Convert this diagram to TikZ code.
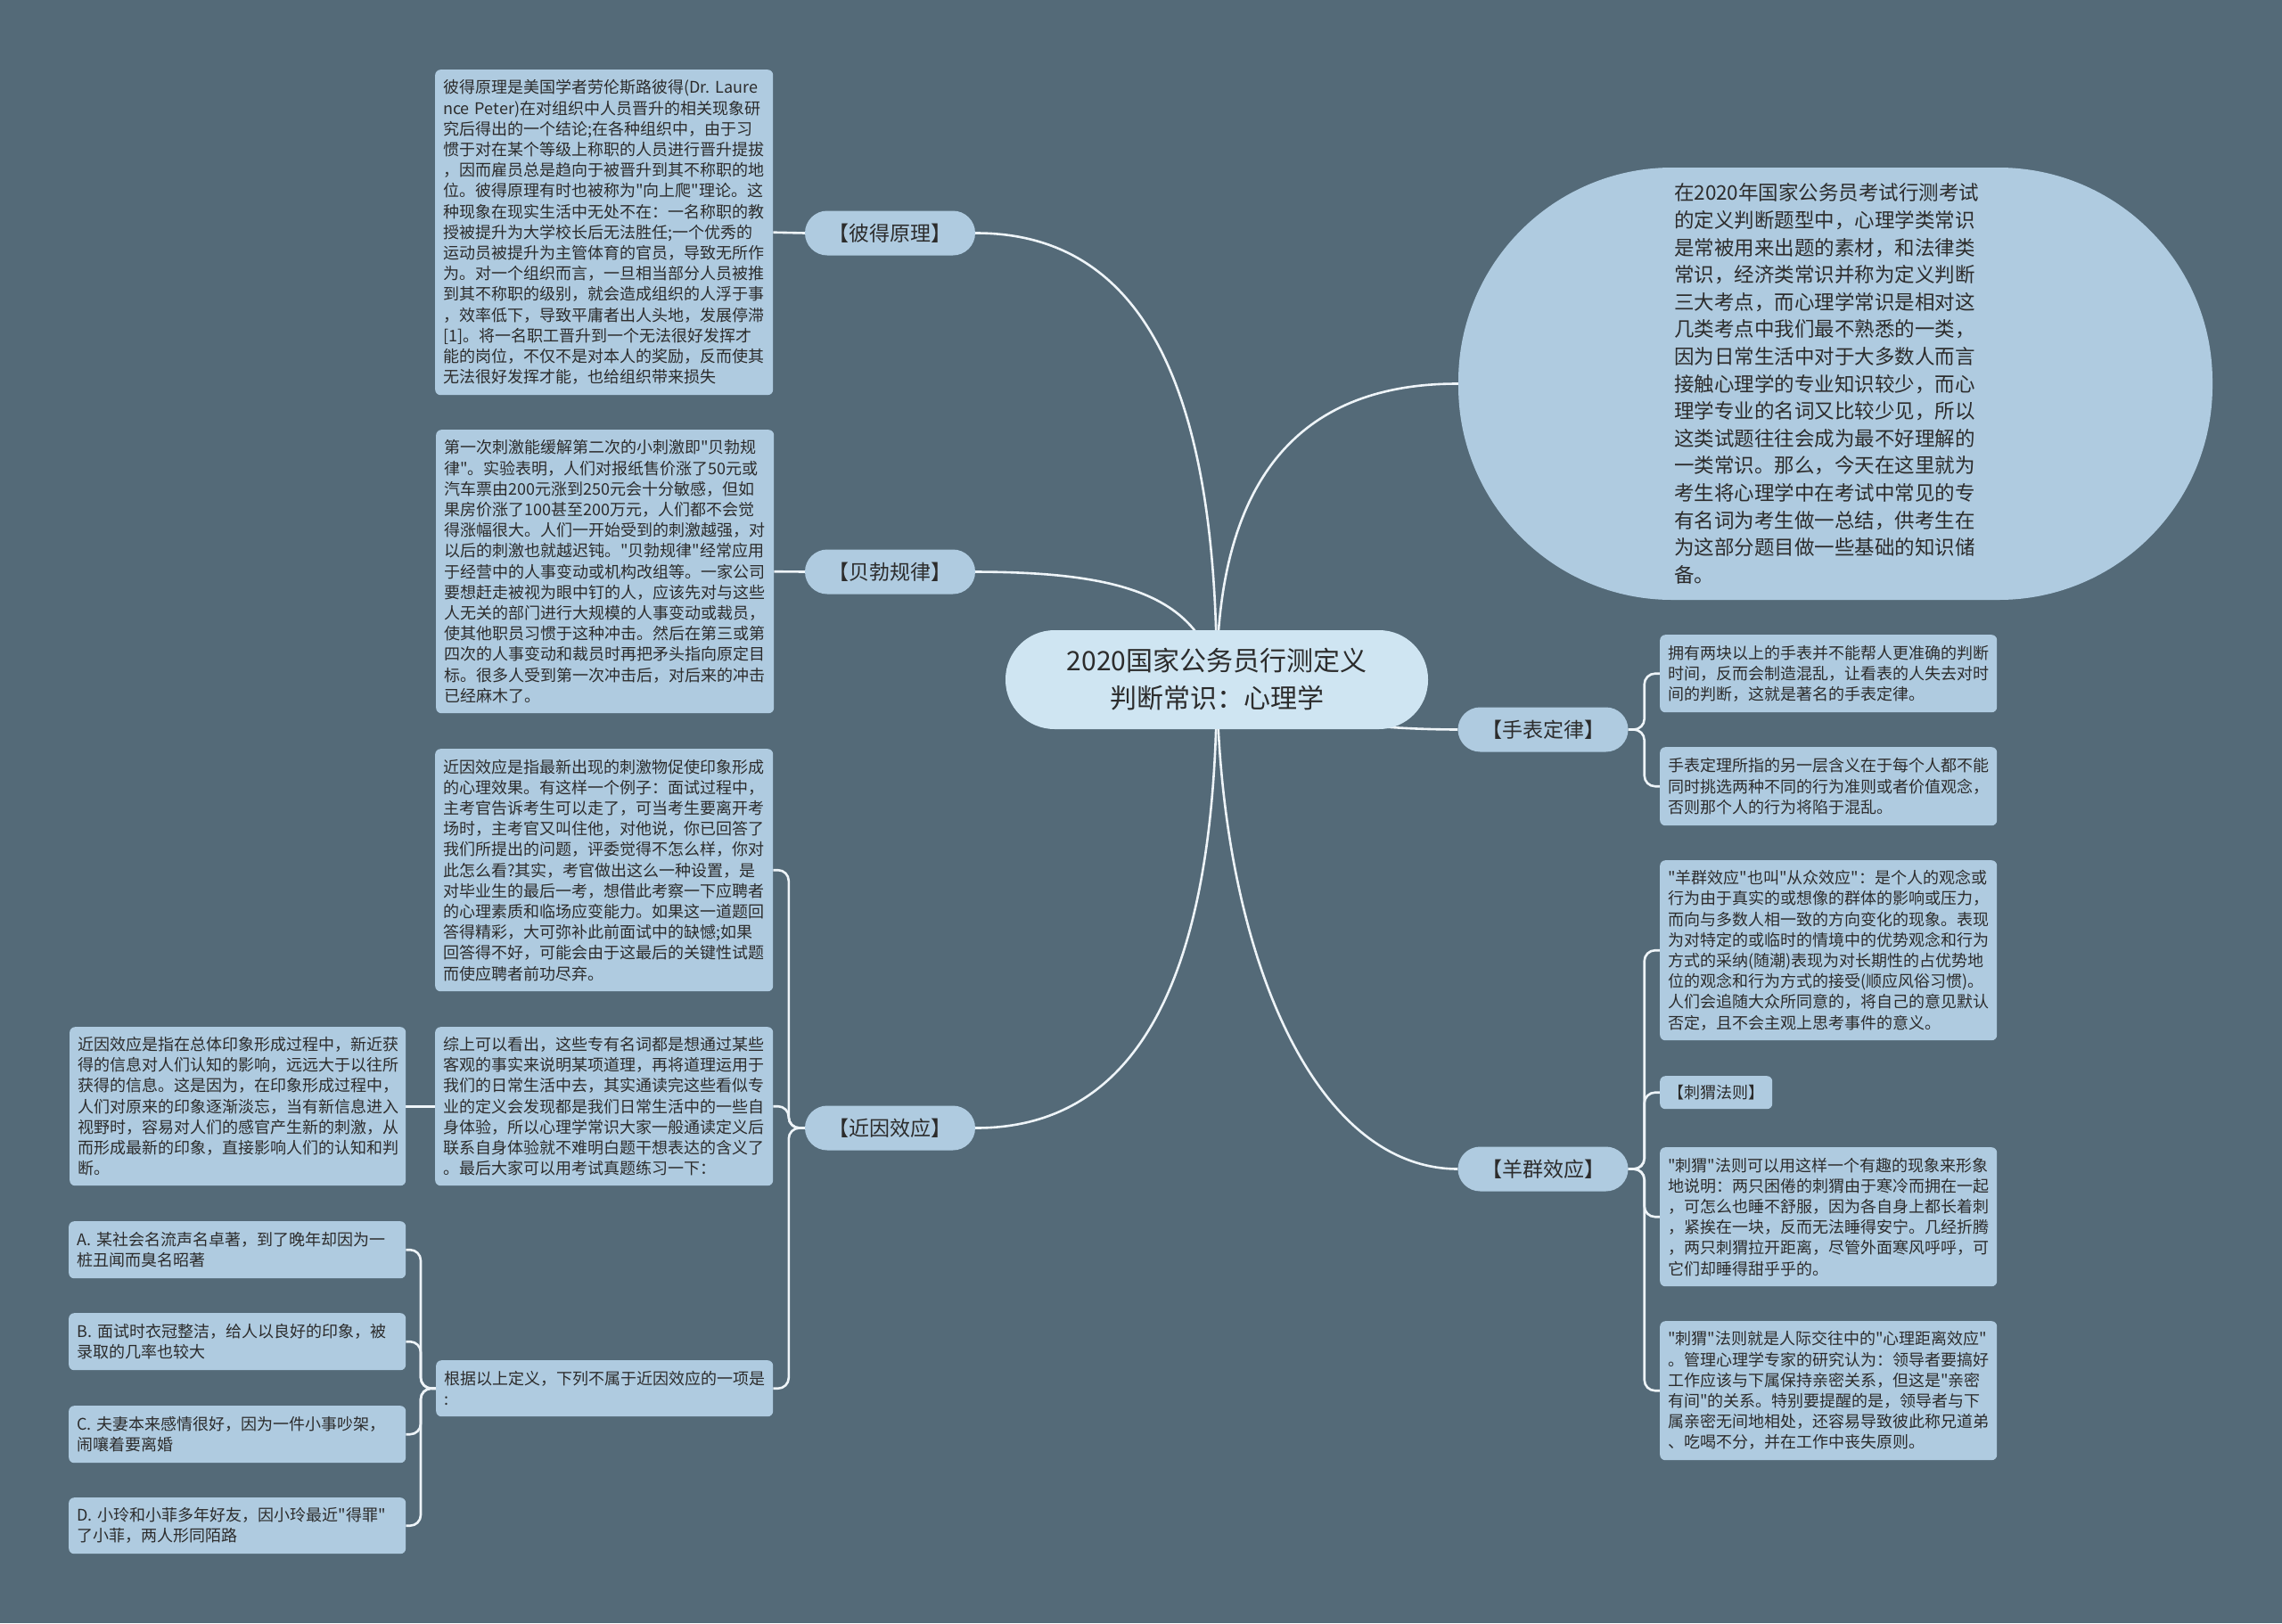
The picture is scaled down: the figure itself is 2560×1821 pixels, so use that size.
\documentclass[tikz,border=0pt]{standalone}
\usepackage{fontspec}
\setmainfont{Noto Sans CJK SC}[Ligatures=TeXOff]
\definecolor{bgc}{HTML}{546A78}
\definecolor{boxc}{HTML}{AFCBE0}
\definecolor{rootc}{HTML}{CFE5F2}
\definecolor{linec}{HTML}{EEF4F8}
\definecolor{txtc}{HTML}{2C2C2C}
\pgfdeclarelayer{back}
\pgfdeclarelayer{lines}
\pgfsetlayers{back,lines,main}
\tikzset{
  leaf/.style={fill=boxc, rounded corners=6, anchor=north west, align=left,
    inner xsep=9, inner ysep=0, text=txtc, font=\fontsize{18}{23.2}\selectfont},
  branch/.style={fill=boxc, rounded corners=25, minimum width=191, minimum height=50,
    inner sep=0, text=txtc, font=\fontsize{23}{28}\selectfont},
  rootbox/.style={fill=rootc, rounded corners=55, minimum width=474, minimum height=111,
    align=center, inner sep=0, text=txtc, font=\fontsize{30}{42}\selectfont},
  capsule/.style={fill=boxc, rounded corners=240, minimum width=846, minimum height=485,
    text width=362, align=left, inner sep=0, text=txtc, font=\fontsize{22.5}{30.6}\selectfont},
  conn/.style={draw=linec, line width=2.6},
  bracket/.style={conn, rounded corners=12}
}
\begin{document}
\begin{tikzpicture}[x=1pt,y=-1pt]
\begin{pgfonlayer}{back}
\fill[bgc] (0,0) rectangle (2560,1821);
\end{pgfonlayer}
\useasboundingbox (0,0) rectangle (2560,1821);

% root and branches
\node[rootbox] (root) at (1365,762.5) {2020国家公务员行测定义\\判断常识：心理学};
\node[branch] (peter) at (998.5,261.5) {【彼得原理】};
\node[branch] (bebo) at (998.5,641.5) {【贝勃规律】};
\node[branch] (jinyin) at (998.5,1265.5) {【近因效应】};
\node[branch] (shoubiao) at (1731,818.5) {【手表定律】};
\node[branch] (yangqun) at (1731,1311.5) {【羊群效应】};

\node[capsule] (intro) at (2059,430.5) {在2020年国家公务员考试行测考试\\的定义判断题型中，心理学类常识\\是常被用来出题的素材，和法律类\\常识，经济类常识并称为定义判断\\三大考点，而心理学常识是相对这\\几类考点中我们最不熟悉的一类，\\因为日常生活中对于大多数人而言\\接触心理学的专业知识较少，而心\\理学专业的名词又比较少见，所以\\这类试题往往会成为最不好理解的\\一类常识。那么，今天在这里就为\\考生将心理学中在考试中常见的专\\有名词为考生做一总结，供考生在\\为这部分题目做一些基础的知识储\\备。};

% left leaves
\node[leaf, text width=361, minimum height=365] (t1) at (488,78) {彼得原理是美国学者劳伦斯路彼得(Dr.~Laure\\nce~Peter)在对组织中人员晋升的相关现象研\\究后得出的一个结论;在各种组织中，由于习\\惯于对在某个等级上称职的人员进行晋升提拔\\，因而雇员总是趋向于被晋升到其不称职的地\\位。彼得原理有时也被称为"向上爬"理论。这\\种现象在现实生活中无处不在：一名称职的教\\授被提升为大学校长后无法胜任;一个优秀的\\运动员被提升为主管体育的官员，导致无所作\\为。对一个组织而言，一旦相当部分人员被推\\到其不称职的级别，就会造成组织的人浮于事\\，效率低下，导致平庸者出人头地，发展停滞\\{[}1]。将一名职工晋升到一个无法很好发挥才\\能的岗位，不仅不是对本人的奖励，反而使其\\无法很好发挥才能，也给组织带来损失};

\node[leaf, text width=361, minimum height=318] (t2) at (489,482) {第一次刺激能缓解第二次的小刺激即"贝勃规\\律"。实验表明，人们对报纸售价涨了50元或\\汽车票由200元涨到250元会十分敏感，但如\\果房价涨了100甚至200万元，人们都不会觉\\得涨幅很大。人们一开始受到的刺激越强，对\\以后的刺激也就越迟钝。"贝勃规律"经常应用\\于经营中的人事变动或机构改组等。一家公司\\要想赶走被视为眼中钉的人，应该先对与这些\\人无关的部门进行大规模的人事变动或裁员，\\使其他职员习惯于这种冲击。然后在第三或第\\四次的人事变动和裁员时再把矛头指向原定目\\标。很多人受到第一次冲击后，对后来的冲击\\已经麻木了。};

\node[leaf, text width=361, minimum height=272] (t3) at (488,840) {近因效应是指最新出现的刺激物促使印象形成\\的心理效果。有这样一个例子：面试过程中，\\主考官告诉考生可以走了，可当考生要离开考\\场时，主考官又叫住他，对他说，你已回答了\\我们所提出的问题，评委觉得不怎么样，你对\\此怎么看?其实，考官做出这么一种设置，是\\对毕业生的最后一考，想借此考察一下应聘者\\的心理素质和临场应变能力。如果这一道题回\\答得精彩，大可弥补此前面试中的缺憾;如果\\回答得不好，可能会由于这最后的关键性试题\\而使应聘者前功尽弃。};

\node[leaf, text width=361, minimum height=178] (t4) at (488,1152) {综上可以看出，这些专有名词都是想通过某些\\客观的事实来说明某项道理，再将道理运用于\\我们的日常生活中去，其实通读完这些看似专\\业的定义会发现都是我们日常生活中的一些自\\身体验，所以心理学常识大家一般通读定义后\\联系自身体验就不难明白题干想表达的含义了\\。最后大家可以用考试真题练习一下：};

\node[leaf, text width=360, minimum height=63] (t5) at (489,1526) {根据以上定义，下列不属于近因效应的一项是\\:};

\node[leaf, text width=359, minimum height=178] (t6) at (78,1152) {近因效应是指在总体印象形成过程中，新近获\\得的信息对人们认知的影响，远远大于以往所\\获得的信息。这是因为，在印象形成过程中，\\人们对原来的印象逐渐淡忘，当有新信息进入\\视野时，容易对人们的感官产生新的刺激，从\\而形成最新的印象，直接影响人们的认知和判\\断。};

\node[leaf, text width=360, minimum height=64] (oa) at (77,1370) {A.~某社会名流声名卓著，到了晚年却因为一\\桩丑闻而臭名昭著};
\node[leaf, text width=360, minimum height=64] (ob) at (77,1473) {B.~面试时衣冠整洁，给人以良好的印象，被\\录取的几率也较大};
\node[leaf, text width=360, minimum height=64] (oc) at (77,1577) {C.~夫妻本来感情很好，因为一件小事吵架，\\闹嚷着要离婚};
\node[leaf, text width=360, minimum height=63] (od) at (77,1680) {D.~小玲和小菲多年好友，因小玲最近"得罪"\\了小菲，两人形同陌路};

% right leaves
\node[leaf, text width=360, minimum height=87] (s1) at (1862,712) {拥有两块以上的手表并不能帮人更准确的判断\\时间，反而会制造混乱，让看表的人失去对时\\间的判断，这就是著名的手表定律。};
\node[leaf, text width=360, minimum height=88] (s2) at (1862,838) {手表定理所指的另一层含义在于每个人都不能\\同时挑选两种不同的行为准则或者价值观念，\\否则那个人的行为将陷于混乱。};

\node[leaf, text width=360, minimum height=202] (y1) at (1862,965) {"羊群效应"也叫"从众效应"：是个人的观念或\\行为由于真实的或想像的群体的影响或压力，\\而向与多数人相一致的方向变化的现象。表现\\为对特定的或临时的情境中的优势观念和行为\\方式的采纳(随潮)表现为对长期性的占优势地\\位的观念和行为方式的接受(顺应风俗习惯)。\\人们会追随大众所同意的，将自己的意见默认\\否定，且不会主观上思考事件的意义。};
\node[leaf, text width=108, minimum height=37] (y2) at (1862,1207) {【刺猬法则】};
\node[leaf, text width=360, minimum height=156] (y3) at (1862,1287) {"刺猬"法则可以用这样一个有趣的现象来形象\\地说明：两只困倦的刺猬由于寒冷而拥在一起\\，可怎么也睡不舒服，因为各自身上都长着刺\\，紧挨在一块，反而无法睡得安宁。几经折腾\\，两只刺猬拉开距离，尽管外面寒风呼呼，可\\它们却睡得甜乎乎的。};
\node[leaf, text width=360, minimum height=156] (y4) at (1862,1482) {"刺猬"法则就是人际交往中的"心理距离效应"\\。管理心理学专家的研究认为：领导者要搞好\\工作应该与下属保持亲密关系，但这是"亲密\\有间"的关系。特别要提醒的是，领导者与下\\属亲密无间地相处，还容易导致彼此称兄道弟\\、吃喝不分，并在工作中丧失原则。};

% connectors
\begin{pgfonlayer}{lines}
\draw[conn] (peter.east) .. controls (1290,261) and (1365,450) .. (root.center);
\draw[conn] (bebo.east) .. controls (1250,642) and (1345,665) .. (root.center);
\draw[conn] (jinyin.east) .. controls (1290,1266) and (1365,1070) .. (root.center);
\draw[conn] (yangqun.west) .. controls (1470,1311) and (1368,1060) .. (root.center);
\draw[conn] (intro.west) .. controls (1440,430) and (1365,560) .. (root.center);
\draw[conn] (shoubiao.west) .. controls (1480,818) and (1380,790) .. (root.center);

\draw[conn] (peter.west) -- (t1.east);
\draw[conn] (bebo.west) -- (t2.east);
\draw[bracket] (jinyin.west) -- ++(-18,0) |- (t3.east);
\draw[bracket] (jinyin.west) -- ++(-18,0) |- (t4.east);
\draw[bracket] (jinyin.west) -- ++(-18,0) |- (t5.east);
\draw[conn] (t4.west) -- (t6.east);
\draw[bracket] (t5.west) -- ++(-17,0) |- (oa.east);
\draw[bracket] (t5.west) -- ++(-17,0) |- (ob.east);
\draw[bracket] (t5.west) -- ++(-17,0) |- (oc.east);
\draw[bracket] (t5.west) -- ++(-17,0) |- (od.east);
\draw[bracket] (shoubiao.east) -- ++(18,0) |- (s1.west);
\draw[bracket] (shoubiao.east) -- ++(18,0) |- (s2.west);
\draw[bracket] (yangqun.east) -- ++(18,0) |- (y1.west);
\draw[bracket] (yangqun.east) -- ++(18,0) |- (y2.west);
\draw[bracket] (yangqun.east) -- ++(18,0) |- (y3.west);
\draw[bracket] (yangqun.east) -- ++(18,0) |- (y4.west);
\end{pgfonlayer}
\end{tikzpicture}
\end{document}
